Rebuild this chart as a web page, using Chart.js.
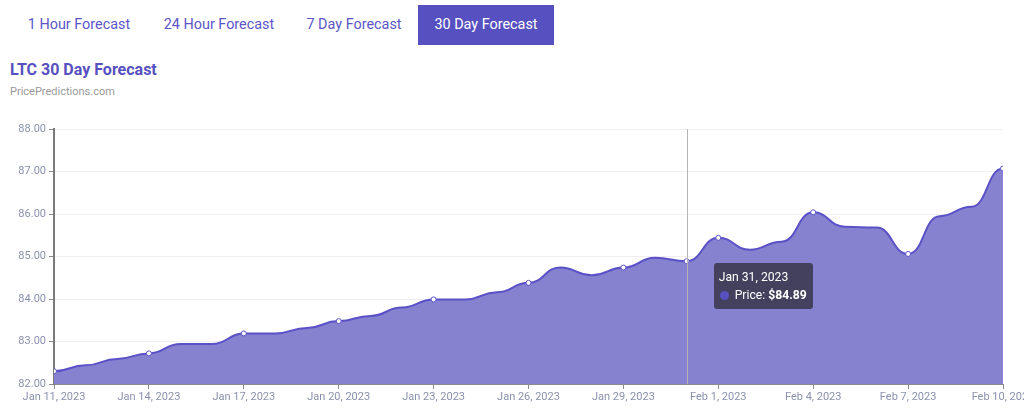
<!DOCTYPE html>
<html>
<head>
<meta charset="utf-8">
<script src="https://cdn.jsdelivr.net/npm/chart.js@4/dist/chart.umd.min.js"></script>
<style>
  html, body { margin: 0; padding: 0; width: 1024px; height: 419px; overflow: hidden; background: #fff; font-family: Roboto, "Open Sans", sans-serif; }
  .tabs { position: absolute; left: 0; top: 5px; height: 40px; }
  .tab { position: absolute; top: 0; height: 40px; line-height: 40px; font-size: 14.4px; color: #5c56c8; white-space: nowrap; text-align: center; }
  .tab.active { background: #5650c0; color: #fff; }
  .title { position: absolute; left: 10px; top: 60px; font-size: 16px; font-weight: 700; color: #5650c0; }
  .sub { position: absolute; left: 10px; top: 85px; font-size: 11px; color: #9a9a9a; }
  #wrap { position: absolute; left: 0; top: 110px; width: 1060px; height: 300px; }
  #tip { position: absolute; display: none; background: rgba(62,60,82,0.92); color: #fff; border-radius: 3px; padding: 5px 6px 5px 5px; font-size: 12.2px; line-height: 18px; white-space: nowrap; pointer-events: none; }
  #tip .dot { display: inline-block; width: 9px; height: 9px; border-radius: 50%; background: #5650c0; margin: 0 6px 0 1px; vertical-align: -1px; }
</style>
</head>
<body>
<div class="tabs">
  <div class="tab" style="left:14px;width:130px;">1 Hour Forecast</div>
  <div class="tab" style="left:151px;width:136px;">24 Hour Forecast</div>
  <div class="tab" style="left:291px;width:126px;">7 Day Forecast</div>
  <div class="tab active" style="left:418px;width:136px;">30 Day Forecast</div>
</div>
<div class="title">LTC 30 Day Forecast</div>
<div class="sub">PricePredictions.com</div>
<div id="wrap"><canvas id="c"></canvas></div>
<div id="tip"></div>
<script>
const dates = ["Jan 11, 2023","Jan 12, 2023","Jan 13, 2023","Jan 14, 2023","Jan 15, 2023","Jan 16, 2023","Jan 17, 2023","Jan 18, 2023","Jan 19, 2023","Jan 20, 2023","Jan 21, 2023","Jan 22, 2023","Jan 23, 2023","Jan 24, 2023","Jan 25, 2023","Jan 26, 2023","Jan 27, 2023","Jan 28, 2023","Jan 29, 2023","Jan 30, 2023","Jan 31, 2023","Feb 1, 2023","Feb 2, 2023","Feb 3, 2023","Feb 4, 2023","Feb 5, 2023","Feb 6, 2023","Feb 7, 2023","Feb 8, 2023","Feb 9, 2023","Feb 10, 2023"];
const prices = [82.30, 82.44, 82.59, 82.72, 82.94, 82.94, 83.19, 83.19, 83.32, 83.48, 83.60, 83.80, 83.99, 83.99, 84.16, 84.38, 84.74, 84.56, 84.74, 84.97, 84.89, 85.44, 85.16, 85.35, 86.04, 85.70, 85.68, 85.06, 85.95, 86.17, 87.07];
const yTicks = [82, 83, 84, 85, 86, 87, 88];
const seriesName = "Price";
const activeIndex = 20;

Chart.defaults.font.family = "Roboto, 'Open Sans', sans-serif";
Chart.defaults.font.size = 11;
Chart.defaults.color = "#8a91ad";

// horizontal-tangent smoothing (like the original chart's "smooth" curve)
const flatTangent = {
  id: 'flatTangent',
  afterDatasetsUpdate(chart) {
    chart.getSortedVisibleDatasetMetas().forEach(meta => {
      const pts = meta.data;
      for (let i = 0; i < pts.length; i++) {
        const p = pts[i], prev = pts[i - 1], next = pts[i + 1];
        const dPrev = prev ? (p.x - prev.x) / 2 : 0;
        const dNext = next ? (next.x - p.x) / 2 : 0;
        p.cp1x = p.x - dPrev; p.cp1y = p.y;
        p.cp2x = p.x + dNext; p.cp2y = p.y;
      }
      if (meta.dataset) meta.dataset._pointsUpdated = true;
    });
  }
};

const crosshair = {
  id: 'crosshair',
  afterDatasetsDraw(chart) {
    const act = chart.tooltip.getActiveElements();
    if (!act.length) return;
    const x = act[0].element.x;
    const {top, bottom} = chart.chartArea;
    const ctx = chart.ctx;
    ctx.save();
    ctx.strokeStyle = '#b4b4b4';
    ctx.lineWidth = 1;
    ctx.beginPath();
    ctx.moveTo(Math.round(x) + 0.5, top);
    ctx.lineTo(Math.round(x) + 0.5, bottom);
    ctx.stroke();
    ctx.restore();
  }
};

function externalTip(context) {
  const tip = document.getElementById('tip');
  const t = context.tooltip;
  if (!t || t.opacity === 0 || !t.dataPoints || !t.dataPoints.length) { tip.style.display = 'none'; return; }
  const dp = t.dataPoints[0];
  const idx = dp.dataIndex;
  tip.innerHTML = '<div>' + dates[idx] + '</div><div><span class="dot"></span>' + seriesName + ': <b>$' + prices[idx].toFixed(2) + '</b></div>';
  const rect = context.chart.canvas.getBoundingClientRect();
  tip.style.display = 'block';
  tip.style.left = (rect.left + t.caretX + 27) + 'px';
  tip.style.top = (rect.top + t.caretY + 2) + 'px';
}

const ctx = document.getElementById('c');
const chart = new Chart(ctx, {
  type: 'line',
  data: {
    datasets: [{
      label: seriesName,
      data: prices.map((v, i) => ({x: i, y: v})),
      borderColor: '#5a51c6',
      borderWidth: 2,
      backgroundColor: 'rgba(134,130,208,1)',
      fill: 'start',
      tension: 0.4,
      pointRadius: c => (c.dataIndex % 3 === 0 ? 2.5 : 0),
      pointHoverRadius: 2.5,
      pointBackgroundColor: '#ffffff',
      pointBorderColor: '#5a51c6',
      pointBorderWidth: 1,
      pointHoverBackgroundColor: '#ffffff',
      pointHoverBorderColor: '#5a51c6',
      pointHoverBorderWidth: 1
    }]
  },
  options: {
    responsive: true,
    maintainAspectRatio: false,
    animation: false,
    events: [],
    layout: { padding: { top: 19, right: 57, left: 0, bottom: 0 } },
    scales: {
      x: {
        type: 'linear',
        min: 0,
        max: dates.length - 1,
        afterFit: s => { s.height = 26; },
        border: { display: true, color: '#8c8c8c', width: 1 },
        grid: { drawOnChartArea: false, drawTicks: true, tickLength: 5, tickColor: '#8c8c8c' },
        ticks: {
          stepSize: 3,
          autoSkip: false,
          maxRotation: 0,
          padding: 2,
          color: '#8a91ad',
          callback: v => dates[v] || ''
        }
      },
      y: {
        min: yTicks[0],
        max: yTicks[yTicks.length - 1],
        afterFit: s => { s.width = 54; },
        afterBuildTicks: s => { s.ticks = yTicks.map(v => ({value: v})); },
        border: { display: true, color: '#7a7a7a', width: 2 },
        grid: { color: '#efeff3', tickColor: '#8c8c8c', tickLength: 5, lineWidth: 1 },
        ticks: { padding: 3, color: '#8a91ad', callback: v => Number(v).toFixed(2) }
      }
    },
    plugins: {
      legend: { display: false },
      tooltip: { enabled: false, external: externalTip }
    }
  },
  plugins: [flatTangent, crosshair]
});

chart.setActiveElements([{datasetIndex: 0, index: activeIndex}]);
const el = chart.getDatasetMeta(0).data[activeIndex];
chart.tooltip.setActiveElements([{datasetIndex: 0, index: activeIndex}], {x: el.x, y: el.y});
chart.update();
</script>
</body>
</html>
